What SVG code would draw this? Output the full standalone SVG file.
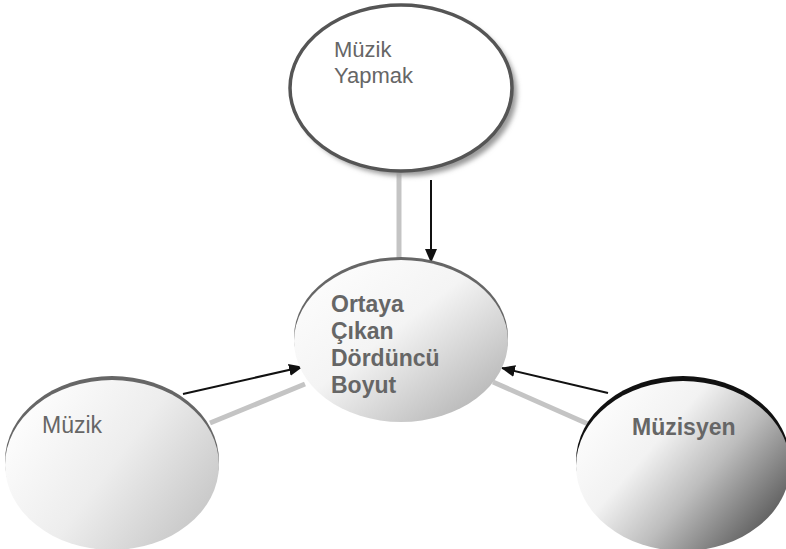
<svg xmlns="http://www.w3.org/2000/svg" width="786" height="549" viewBox="0 0 786 549">
<style>
.lbl{font-family:"Liberation Sans",Arial,sans-serif;fill:#666}
.b{font-weight:bold}
.gray{stroke:#c4c4c4;stroke-width:5;fill:none}
.arr{stroke:#111;stroke-width:2;fill:none;marker-end:url(#ah)}
</style>
<defs>
<marker id="ah" viewBox="0 0 14 12" refX="13" refY="6" markerWidth="14" markerHeight="12" markerUnits="userSpaceOnUse" orient="auto">
<path d="M0,0 L14,6 L0,12 Z" fill="#111"/>
</marker>
<filter id="sh" x="-20%" y="-20%" width="140%" height="140%">
<feGaussianBlur stdDeviation="2.5"/>
</filter>
<linearGradient id="gc" x1="0" y1="0" x2="1" y2="1">
<stop offset="0" stop-color="#ffffff"/>
<stop offset="0.45" stop-color="#f4f4f4"/>
<stop offset="1" stop-color="#a8a8a8"/>
</linearGradient>
<linearGradient id="gl" x1="0" y1="0.2" x2="1" y2="0.8">
<stop offset="0" stop-color="#ffffff"/>
<stop offset="0.5" stop-color="#ededed"/>
<stop offset="1" stop-color="#c4c4c4"/>
</linearGradient>
<linearGradient id="gr" x1="0" y1="0.15" x2="1" y2="0.85">
<stop offset="0" stop-color="#ffffff"/>
<stop offset="0.35" stop-color="#f2f2f2"/>
<stop offset="0.6" stop-color="#bdbdbd"/>
<stop offset="1" stop-color="#4a4a4a"/>
</linearGradient>
</defs>
<g id="connectors">
<line class="gray" x1="399" y1="172" x2="399" y2="260"/>
<line class="arr" x1="431" y1="180" x2="431" y2="262"/>
<line class="gray" x1="210" y1="423" x2="305" y2="384"/>
<line class="arr" x1="183" y1="394" x2="302" y2="367"/>
<line class="gray" x1="588" y1="424" x2="493" y2="382"/>
<line class="arr" x1="608" y1="393" x2="502" y2="368"/>
</g>
<g id="node-muzik-yapmak">
<ellipse cx="406" cy="93" rx="111" ry="83" fill="#9a9a9a" filter="url(#sh)"/>
<ellipse cx="401" cy="88" rx="111" ry="83" fill="#ffffff" stroke="#555" stroke-width="3.5"/>
<text class="lbl" x="334" y="57" font-size="22">Müzik</text>
<text class="lbl" x="334" y="83" font-size="22">Yapmak</text>
</g>
<g id="node-ortaya">
<ellipse cx="401" cy="337" rx="107" ry="80" fill="#666"/>
<ellipse cx="401" cy="341" rx="107" ry="81" fill="url(#gc)"/>
<text class="lbl b" x="331" y="312" font-size="23">Ortaya</text>
<text class="lbl b" x="331" y="339" font-size="23">Çıkan</text>
<text class="lbl b" x="331" y="366" font-size="23">Dördüncü</text>
<text class="lbl b" x="331" y="393" font-size="23">Boyut</text>
</g>
<g id="node-muzik">
<ellipse cx="112" cy="461" rx="107" ry="85" fill="#666"/>
<ellipse cx="112" cy="465" rx="107" ry="85" fill="url(#gl)"/>
<text class="lbl" x="42" y="433" font-size="23">Müzik</text>
</g>
<g id="node-muzisyen">
<ellipse cx="683" cy="461" rx="107" ry="85" fill="#111"/>
<ellipse cx="683" cy="466" rx="107" ry="85" fill="url(#gr)"/>
<text class="lbl b" x="632" y="435" font-size="23">Müzisyen</text>
</g>
</svg>
